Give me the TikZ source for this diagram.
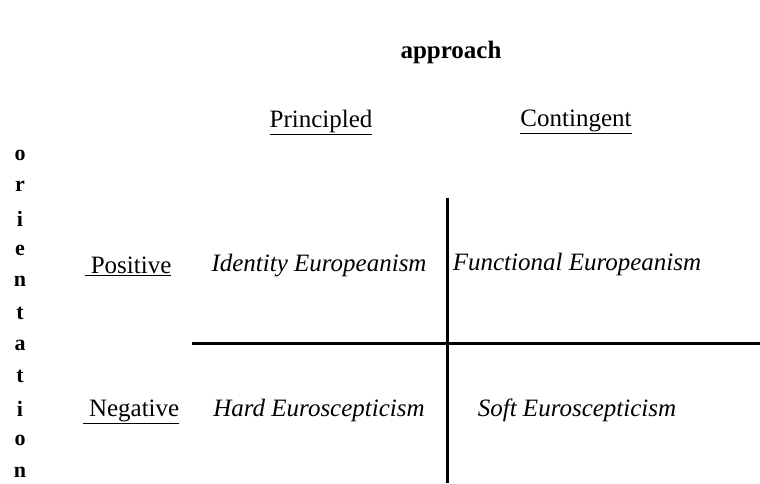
\documentclass[tikz,border=0pt]{standalone}
\usepackage{fontspec}
\setmainfont{Liberation Serif}

\begin{document}
\begin{tikzpicture}
[
    x=1pt, y=-1pt,
    title/.style={font=\fontsize{25}{29}\selectfont\bfseries},
    head/.style={font=\fontsize{25}{29}\selectfont},
    cell/.style={font=\fontsize{25}{29}\selectfont\itshape},
    letter/.style={font=\fontsize{22}{26}\selectfont\bfseries, inner sep=0pt},
    axis/.style={line width=3pt},
]
\useasboundingbox (0,0) rectangle (760,483);
% headings
\node [title] (approach) at (451,52) {approach};
\node [head] (principled) at (321,122) {\underline{Principled}};
\node [head] (contingent) at (576,122) {\underline{Contingent}};
\node [head] (positive) at (128,266) {\underline{~Positive}};
\node [head] (negative) at (131,412) {\underline{~Negative}};
% vertical word
\foreach \l [count=\i] in {o,r,i,e,n,t,a,t,i,o,n}
    \node [letter] (orient\i) at (20,{155+31.7*(\i-1)}) {\l};
% cells
\node [cell] (identity) at (319,266) {Identity Europeanism};
\node [cell] (functional) at (577,264) {Functional Europeanism};
\node [cell] (hard) at (319,410) {Hard Euroscepticism};
\node [cell] (soft) at (577,410) {Soft Euroscepticism};
% axes
\coordinate (vtop) at (447,198);
\coordinate (vbot) at (447,483);
\coordinate (hleft) at (192,343);
\coordinate (hright) at (760,343);
\draw [axis] (vtop) -- (vbot);
\draw [axis] (hleft) -- (hright);
\end{tikzpicture}
\end{document}
